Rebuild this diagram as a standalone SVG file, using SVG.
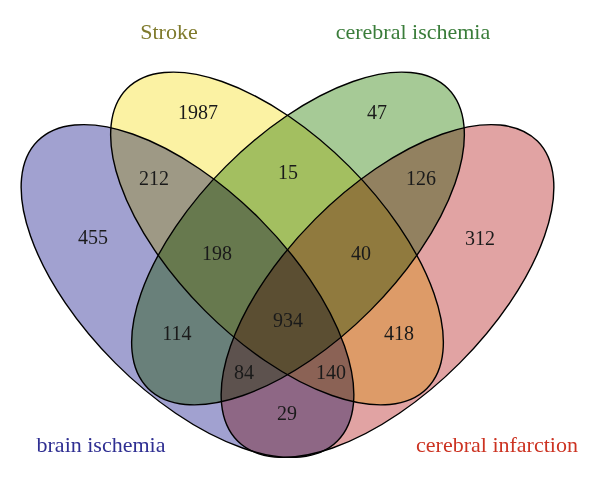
<svg xmlns="http://www.w3.org/2000/svg" width="600" height="480" viewBox="0 0 600 480">
  <style>
    .set { mix-blend-mode: multiply; stroke: #000; stroke-width: 1.4; }
    .num { font-family: "Liberation Serif", "DejaVu Serif", serif; font-size: 20px; fill: #1a1a1a; text-anchor: middle; }
    .lbl { font-family: "Liberation Serif", "DejaVu Serif", serif; font-size: 22px; text-anchor: middle; }
  </style>
  <rect x="0" y="0" width="600" height="480" fill="#ffffff"/>
  <g id="venn" style="isolation: isolate">
    <g id="brain-ischemia">
      <ellipse class="set" cx="0" cy="0" rx="212" ry="102" fill="#a1a1d0" transform="translate(187.5,291) rotate(45)"/>
    </g>
    <g id="stroke">
      <ellipse class="set" cx="0" cy="0" rx="212" ry="102" fill="#fbf2a3" transform="translate(277,238.5) rotate(45)"/>
    </g>
    <g id="cerebral-ischemia">
      <ellipse class="set" cx="0" cy="0" rx="212" ry="102" fill="#a6ca96" transform="translate(298,238.5) rotate(-45)"/>
    </g>
    <g id="cerebral-infarction">
      <ellipse class="set" cx="0" cy="0" rx="212" ry="102" fill="#e1a3a3" transform="translate(387.5,291) rotate(-45)"/>
    </g>
  </g>
  <g id="counts">
    <text class="num" x="198" y="119">1987</text>
    <text class="num" x="377" y="119">47</text>
    <text class="num" x="154" y="185">212</text>
    <text class="num" x="288" y="179">15</text>
    <text class="num" x="421" y="185">126</text>
    <text class="num" x="93" y="244">455</text>
    <text class="num" x="217" y="260">198</text>
    <text class="num" x="361" y="260">40</text>
    <text class="num" x="480" y="245">312</text>
    <text class="num" x="288" y="327">934</text>
    <text class="num" x="177" y="340">114</text>
    <text class="num" x="399" y="340">418</text>
    <text class="num" x="244" y="379">84</text>
    <text class="num" x="331" y="379">140</text>
    <text class="num" x="287" y="420">29</text>
  </g>
  <g id="labels">
    <text class="lbl" x="169" y="39" fill="#7f7a2c">Stroke</text>
    <text class="lbl" x="413" y="39" fill="#3a7d3a">cerebral ischemia</text>
    <text class="lbl" x="101" y="452" fill="#2f2f92">brain ischemia</text>
    <text class="lbl" x="497" y="452" fill="#cc3322">cerebral infarction</text>
  </g>
</svg>
